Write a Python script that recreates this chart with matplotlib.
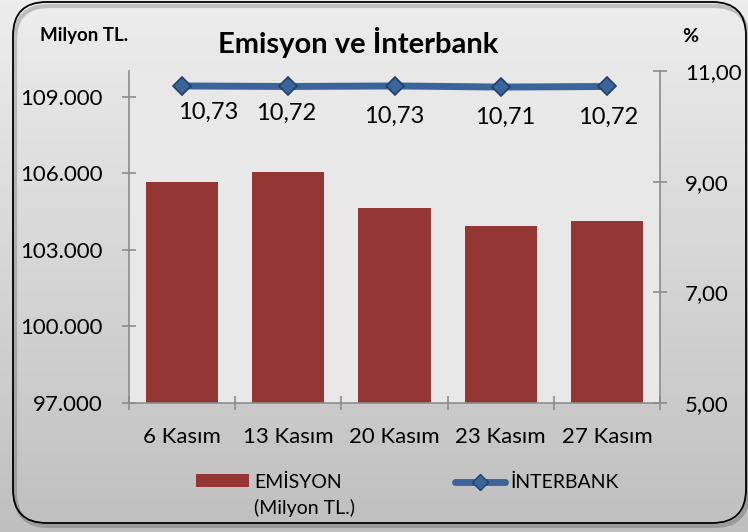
import numpy as np
import matplotlib
matplotlib.use("Agg")
import matplotlib.pyplot as plt
from matplotlib.patches import FancyBboxPatch, Rectangle
from matplotlib.lines import Line2D
from matplotlib.ticker import FixedLocator

plt.rcParams['font.family'] = ['Lato', 'DejaVu Sans']

categories = ["6 Kasım", "13 Kasım", "20 Kasım", "23 Kasım", "27 Kasım"]
emisyon = [105640, 106030, 104620, 103920, 104110]
interbank = [10.73, 10.72, 10.73, 10.71, 10.72]
interbank_labels = ["10,73", "10,72", "10,73", "10,71", "10,72"]
left_ticks = [97000, 100000, 103000, 106000, 109000]
left_tick_labels = ["97.000", "100.000", "103.000", "106.000", "109.000"]
right_ticks = [5, 7, 9, 11]
right_tick_labels = ["5,00", "7,00", "9,00", "11,00"]

W, H = 748, 532
fig = plt.figure(figsize=(W / 100, H / 100), dpi=100)

# background gradient
bg = fig.add_axes([0, 0, 1, 1], zorder=-10)
grad = np.linspace(0.93, 0.75, 256).reshape(-1, 1)
bg.imshow(np.dstack([grad, grad, grad]), aspect='auto', extent=[0, 1, 0, 1], origin='upper')
bg.set_xlim(0, 1); bg.set_ylim(0, 1)
bg.axis('off')
# shadow + rounded border
bg.add_patch(FancyBboxPatch((15 / W, 6 / H), 733 / W, 520 / H,
                            boxstyle="round,pad=0,rounding_size=0.045",
                            mutation_aspect=W / H, fc='none', ec='#00000030', lw=3,
                            transform=bg.transAxes))
bg.add_patch(FancyBboxPatch((13 / W, 9 / H), 733 / W, 521 / H,
                            boxstyle="round,pad=0,rounding_size=0.045",
                            mutation_aspect=W / H, fc='none', ec='black', lw=1.3,
                            transform=bg.transAxes))

axc = '#8c8c8c'
ax = fig.add_axes([129 / W, 1 - 403 / H, (660 - 129) / W, (403 - 71) / H])
ax.set_facecolor('#e8e8e8')
x = np.arange(len(categories))
ax.bar(x, [v - 97000 for v in emisyon], bottom=97000, width=0.68, color='#943634', zorder=2)
ax.set_xlim(-0.5, len(categories) - 0.5)
ax.set_ylim(97000, 110000)
for s in ['top', 'right']:
    ax.spines[s].set_visible(False)
for s in ['left', 'bottom']:
    ax.spines[s].set_color(axc)
    ax.spines[s].set_linewidth(1.2)
ax.yaxis.set_major_locator(FixedLocator(left_ticks))
ax.set_yticklabels(left_tick_labels)
ax.set_xticks(x)
ax.set_xticklabels(categories)
ax.xaxis.set_minor_locator(FixedLocator(np.arange(-0.5, len(categories), 1.0)))
ax.tick_params(axis='x', which='major', length=0, pad=17, labelsize=16, colors='black')
ax.tick_params(axis='x', which='minor', direction='inout', length=10, color=axc, width=1.2)
ax.tick_params(axis='y', direction='inout', length=10, color=axc, width=1.2, labelsize=16, pad=14)

ax2 = ax.twinx()
ax2.set_ylim(5, 11)
ax2.plot(x, interbank, color='#3b659a', lw=5, marker='D', ms=9,
         mfc='#3b659a', mec='#1f3f6b', mew=1.2, zorder=5, solid_capstyle='round')
ax2.set_yticks(right_ticks)
ax2.set_yticklabels(right_tick_labels)
ax2.tick_params(axis='y', direction='inout', length=10, color=axc, width=1.2, labelsize=16, pad=13)
for s in ['top', 'left', 'bottom']:
    ax2.spines[s].set_visible(False)
ax2.spines['right'].set_color(axc)
ax2.spines['right'].set_linewidth(1.2)

label_offsets = [(19, -19), (-1.5, -19), (0, -22), (3, -22), (1, -22)]
for xi, yi, lab, off in zip(x, interbank, interbank_labels, label_offsets):
    ax2.annotate(lab, (xi, yi), xytext=off, textcoords='offset points', ha='center', va='center',
                 fontsize=17, color='black')

fig.text(84 / W, 1 - 35 / H, "Milyon TL.", fontsize=13.5, fontweight='bold', ha='center', va='center')
fig.text(358 / W, 1 - 42 / H, "Emisyon ve İnterbank", fontsize=21, fontweight='bold', ha='center', va='center')
fig.text(690 / W, 1 - 37 / H, "%", fontsize=14, fontweight='bold', ha='center', va='center')

# legend
fig.patches.append(Rectangle((196 / W, 1 - 487 / H), 53 / W, 13 / H, fc='#943634', ec='none',
                             transform=fig.transFigure))
fig.text(254 / W, 1 - 482 / H, "EMİSYON", fontsize=14, ha='left', va='center')
fig.text(254 / W, 1 - 508 / H, "(Milyon TL.)", fontsize=14, ha='left', va='center')
fig.lines.append(Line2D([455 / W, 505 / W], [1 - 482 / H, 1 - 482 / H], color='#3b659a', lw=5,
                        solid_capstyle='round', transform=fig.transFigure))
fig.lines.append(Line2D([480 / W], [1 - 482 / H], marker='D', ms=8, mfc='#3b659a', mec='#1f3f6b',
                        transform=fig.transFigure))
fig.text(510 / W, 1 - 482 / H, "İNTERBANK", fontsize=14, ha='left', va='center')

fig.savefig('out.png', dpi=100)
